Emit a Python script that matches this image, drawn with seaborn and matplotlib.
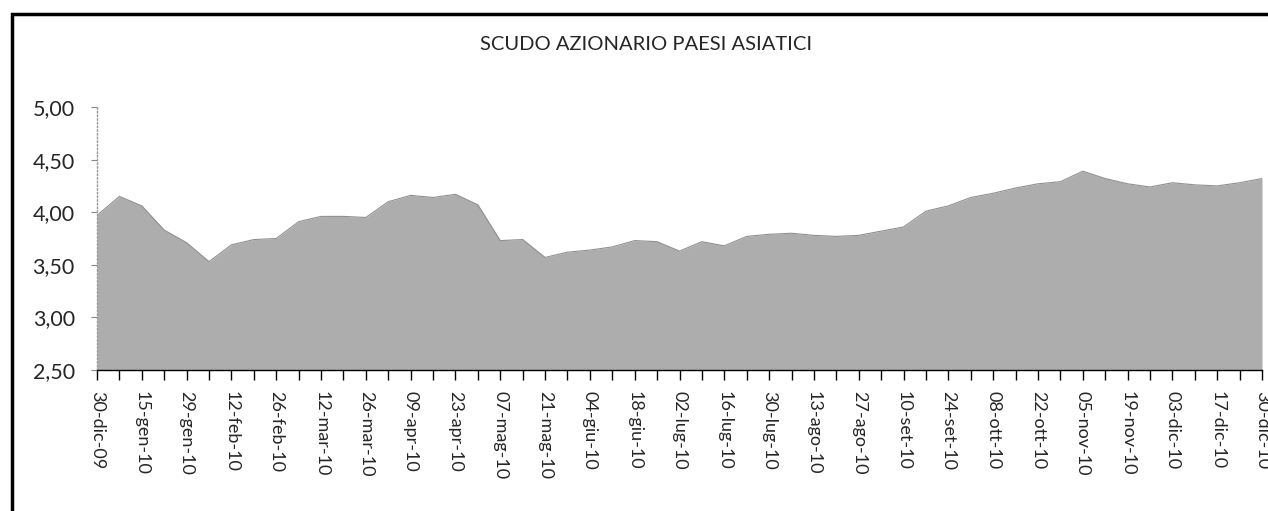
import pandas as pd
import seaborn as sns
import matplotlib.pyplot as plt
from matplotlib.patches import Rectangle

# === Data: weekly values (one per tick) ===
week_idx = list(range(53))
nav = [3.97, 4.15, 4.06, 3.83, 3.71, 3.53, 3.69, 3.74, 3.75, 3.91,
       3.96, 3.96, 3.95, 4.10, 4.16, 4.14, 4.17, 4.07, 3.73, 3.74,
       3.57, 3.62, 3.64, 3.67, 3.73, 3.72, 3.63, 3.72, 3.68, 3.77,
       3.79, 3.80, 3.78, 3.77, 3.78, 3.82, 3.86, 4.01, 4.06, 4.14,
       4.18, 4.23, 4.27, 4.29, 4.39, 4.32, 4.27, 4.24, 4.28, 4.26,
       4.25, 4.28, 4.32]
date_labels = ["30-dic-09", "15-gen-10", "29-gen-10", "12-feb-10", "26-feb-10",
               "12-mar-10", "26-mar-10", "09-apr-10", "23-apr-10", "07-mag-10",
               "21-mag-10", "04-giu-10", "18-giu-10", "02-lug-10", "16-lug-10",
               "30-lug-10", "13-ago-10", "27-ago-10", "10-set-10", "24-set-10",
               "08-ott-10", "22-ott-10", "05-nov-10", "19-nov-10", "03-dic-10",
               "17-dic-10", "30-dic-10"]
y_ticks = [2.5, 3.0, 3.5, 4.0, 4.5, 5.0]

df = pd.DataFrame({"week": week_idx, "nav": nav})

sns.set_style("white")
plt.rcParams["font.family"] = ["Lato", "DejaVu Sans"]

fig = plt.figure(figsize=(12.68, 5.11), dpi=100)
ax = fig.add_axes([97 / 1268, 1 - 370 / 511, (1262 - 97) / 1268, (370 - 107) / 511])

# === Area ===
ax.fill_between(df["week"], 2.5, df["nav"], color="#adadad", linewidth=0)
sns.lineplot(data=df, x="week", y="nav", ax=ax, color="#8f8f8f", linewidth=0.8)

ax.set_xlim(0, 52)
ax.set_ylim(2.5, 5.0)

# x axis: a tick every week, a label every two weeks
ax.set_xticks(week_idx[::2])
ax.set_xticklabels(date_labels, rotation=270, fontsize=13)
ax.set_xticks(week_idx[1::2], minor=True)
ax.tick_params(axis="x", which="both", direction="out", length=7, width=1,
               color="black", bottom=True, pad=8)

ax.set_yticks(y_ticks)
ax.set_yticklabels([f"{v:.2f}".replace(".", ",") for v in y_ticks], fontsize=15.5)
ax.tick_params(axis="y", direction="out", length=4, width=0.8, color="#888888",
               left=True, pad=12)

for side in ["top", "right"]:
    ax.spines[side].set_visible(False)
ax.spines["left"].set_color("#999999")
ax.spines["left"].set_linestyle(":")
ax.spines["left"].set_linewidth(1)
ax.spines["bottom"].set_color("black")
ax.spines["bottom"].set_linewidth(1)

ax.set_xlabel("")
ax.set_ylabel("")

fig.text(646 / 1268, 1 - 45 / 511, "SCUDO AZIONARIO PAESI ASIATICI",
         ha="center", va="center", fontsize=14.5)

# chart border (cropped on the right and bottom in the scan)
fig.patches.append(Rectangle((12 / 1268, -0.2), 1.2, 1.2 - 14 / 511,
                             transform=fig.transFigure, fill=False,
                             edgecolor="black", linewidth=2.5))

plt.savefig("out.png", dpi=100)
